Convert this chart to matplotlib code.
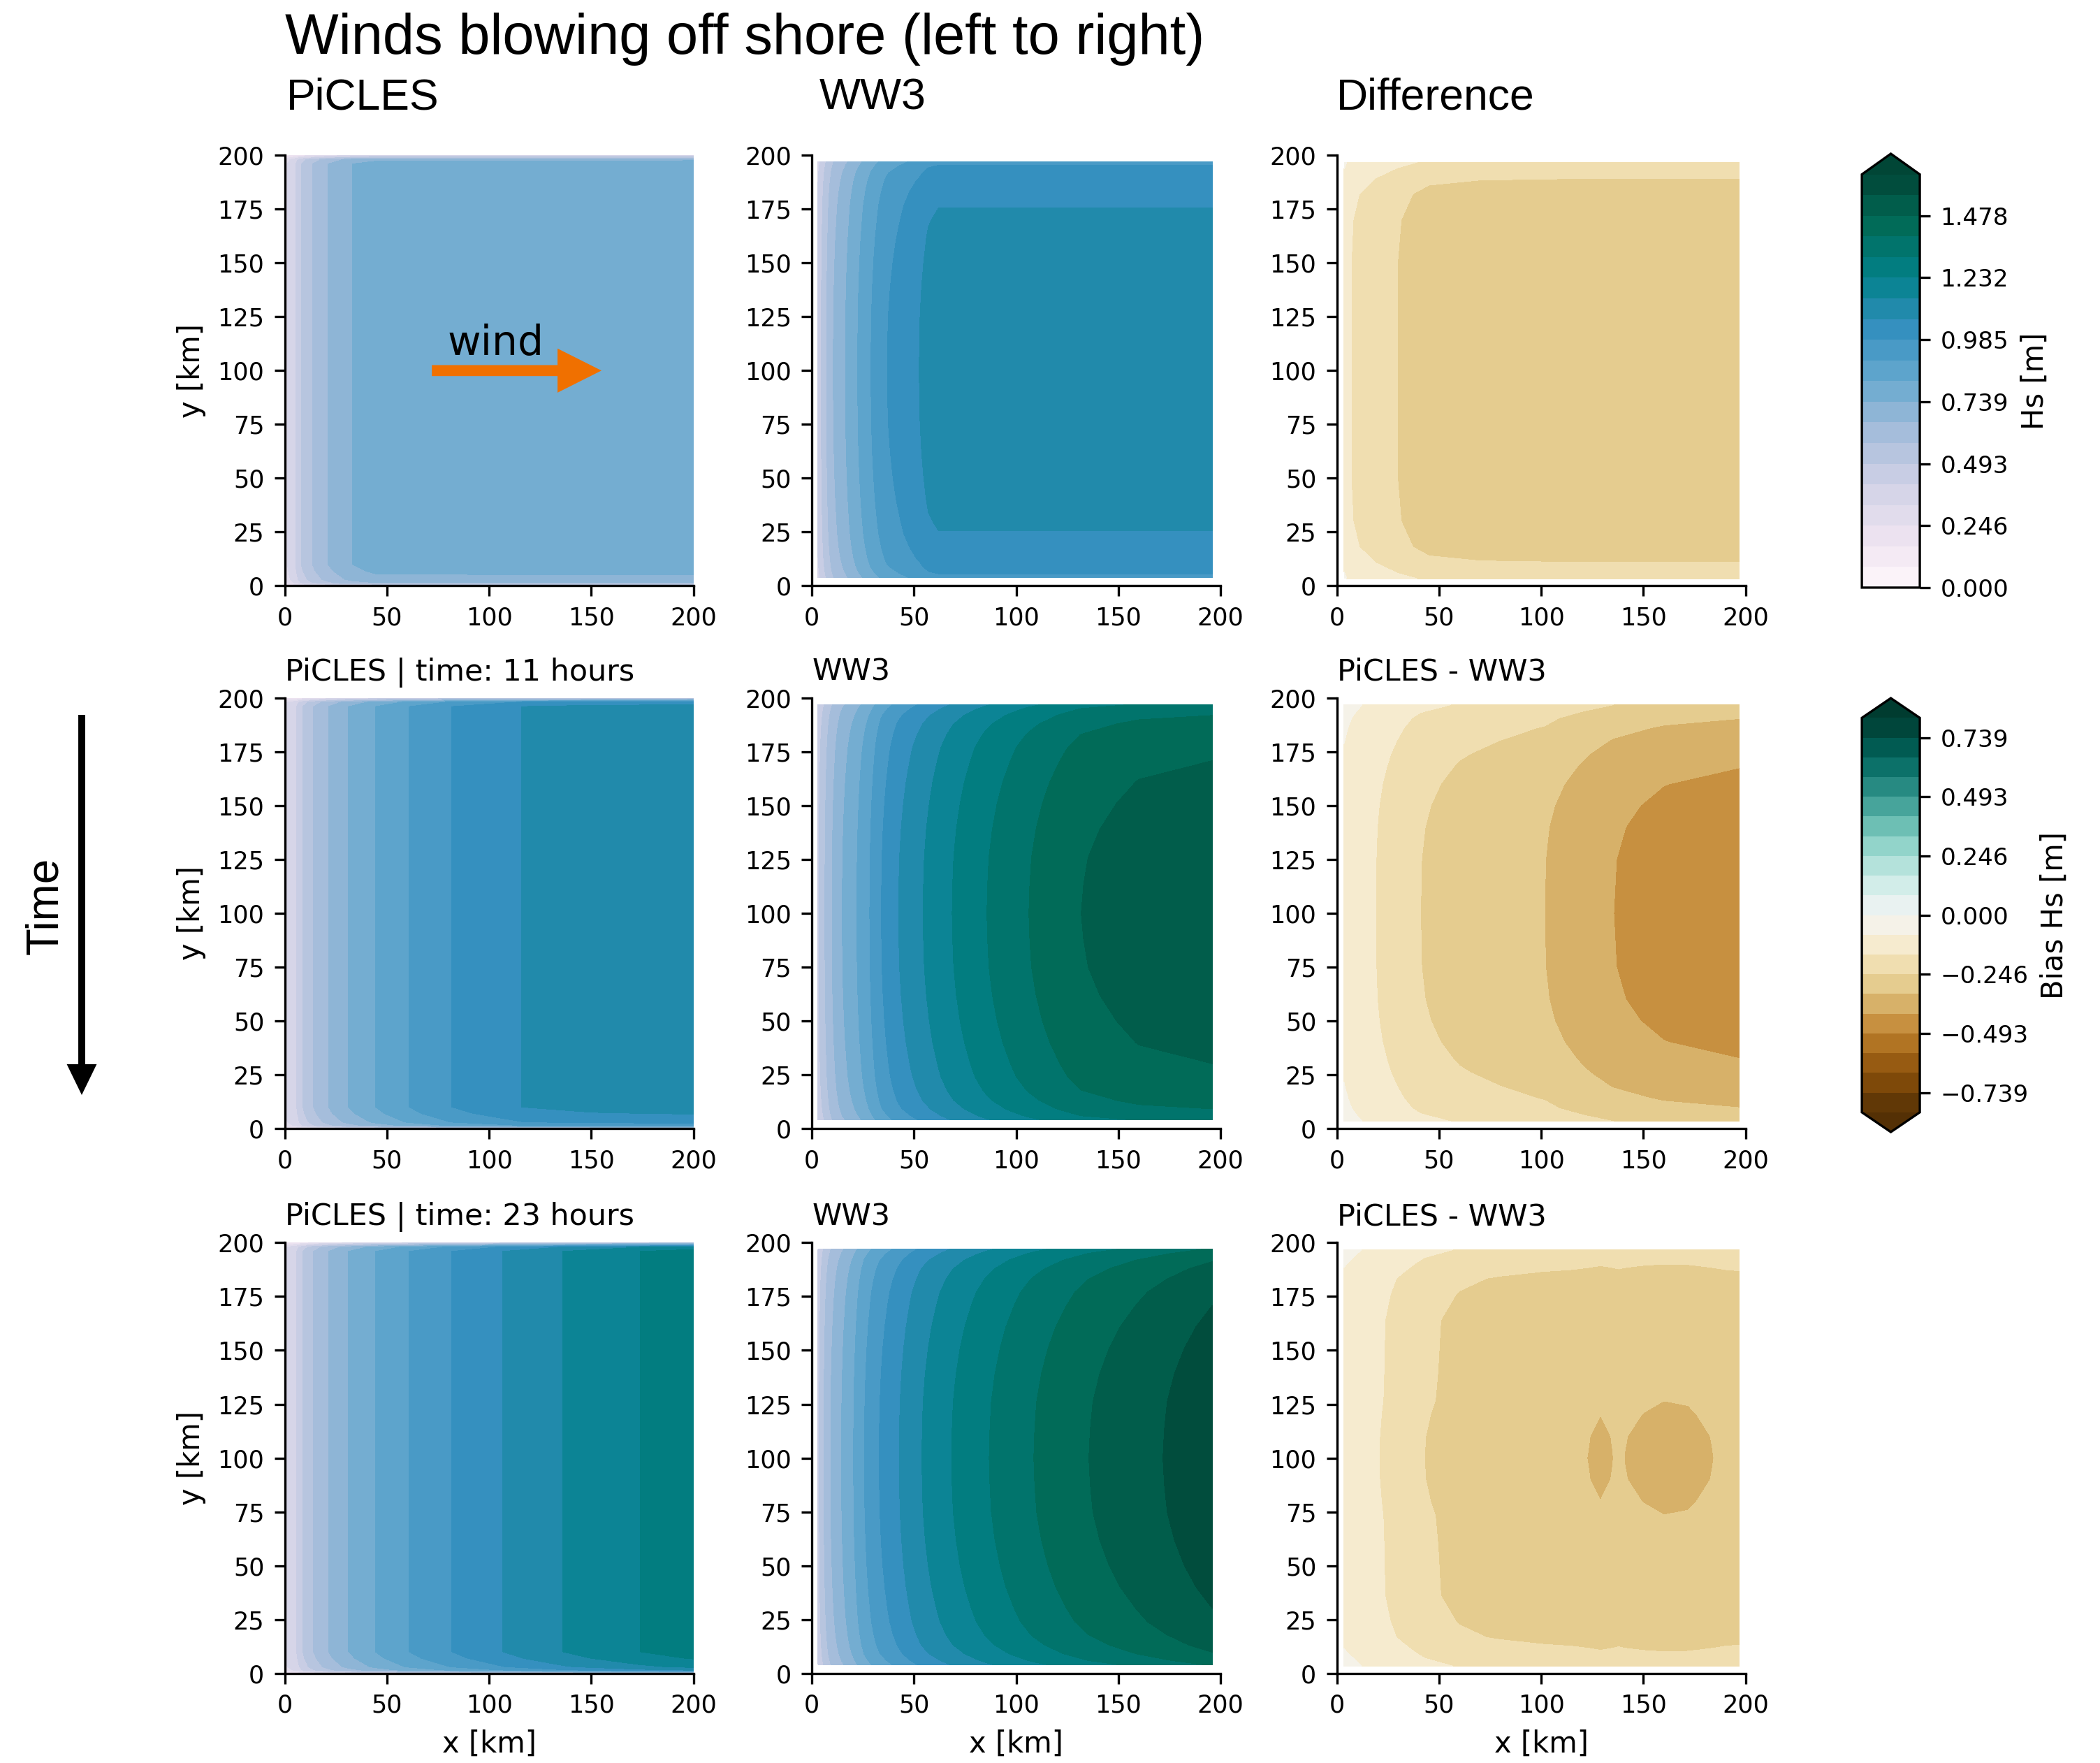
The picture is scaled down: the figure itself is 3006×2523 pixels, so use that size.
import numpy as np
import matplotlib
matplotlib.use("Agg")
import matplotlib.pyplot as plt
from matplotlib.patches import FancyArrow
from matplotlib.ticker import FuncFormatter

# ---------------------------------------------------------------------------
# Contour levels (m)
HS_STEP = 0.08212
hs_levels = np.arange(21) * HS_STEP
bias_levels = (np.arange(21) - 10) * HS_STEP

# ---------------------------------------------------------------------------
# PiCLES: along-shore shape factor and cross-shore Hs profiles (x in km, Hs in m)
picles_y = [0, 1.5, 3, 7, 10, 196, 198, 200]
picles_yfac = [0.42, 0.85, 0.92, 0.975, 1.0, 1.0, 0.93, 0.42]

picles_x_t0 = [0, 1.4, 5.3, 8.1, 13.5, 21.2, 33.0, 45, 200]
picles_hs_t0 = [0.29, 0.33, 0.41, 0.493, 0.575, 0.657, 0.739, 0.775, 0.78]

picles_x_t11 = [0, 5.8, 8.9, 14.1, 21.4, 31.2, 44.4, 60.8, 81.6, 116, 150, 200]
picles_hs_t11 = [0.34, 0.41, 0.493, 0.575, 0.657, 0.739, 0.821, 0.903, 0.985,
                 1.068, 1.09, 1.10]

picles_x_t23 = [0, 5.8, 8.9, 14.1, 21.4, 31.2, 44.4, 60.8, 81.6, 106.9, 136.1,
                174.0, 200]
picles_hs_t23 = [0.34, 0.41, 0.493, 0.575, 0.657, 0.739, 0.821, 0.903, 0.985,
                 1.068, 1.15, 1.232, 1.27]

# WW3: along-shore shape factor and centre-line Hs profiles
ww3_y = [4, 6, 9, 13, 18, 24, 30, 40, 50, 62, 75, 88, 100,
         113, 126, 139, 151, 161, 171, 177, 183, 188, 192, 195, 197]
ww3_yfac = [0.87, 0.89, 0.912, 0.93, 0.945, 0.958, 0.966, 0.977, 0.985, 0.992,
            0.997, 0.999, 1.0,
            0.999, 0.997, 0.992, 0.985, 0.977, 0.966, 0.958, 0.945, 0.93,
            0.912, 0.89, 0.87]

ww3_x_t0 = [3, 4.6, 7.2, 10.5, 16.4, 22.4, 28.9, 36.8, 52.6, 57, 62, 196]
ww3_hs_t0 = [0.44, 0.493, 0.575, 0.657, 0.739, 0.821, 0.903, 0.985, 1.068,
             1.10, 1.112, 1.112]

ww3_x_t11 = [3, 6.4, 9.9, 14.9, 22.0, 28.3, 34.0, 42.5, 54.5, 68.7, 85.7,
             106.2, 131.7, 160, 196]
ww3_hs_t11 = [0.48, 0.575, 0.657, 0.739, 0.821, 0.903, 0.985, 1.068, 1.15,
              1.232, 1.314, 1.396, 1.478, 1.515, 1.53]

ww3_x_t23 = [3, 5.9, 9.2, 14.5, 20.4, 25.7, 32.9, 42.8, 53.9, 68.4, 86.8,
             108.6, 135.5, 171.7, 196]
ww3_hs_t23 = [0.47, 0.575, 0.657, 0.739, 0.821, 0.903, 0.985, 1.068, 1.15,
              1.232, 1.314, 1.396, 1.478, 1.56, 1.615]

# Difference (PiCLES - WW3): along-shore factors and centre-line bias (m)
diff_y_t0 = [3.3, 10.6, 18, 30, 50, 150, 170.1, 182.1, 189.5, 196.8]
diff_yfac_t0 = [0.6, 0.79, 0.92, 0.98, 1.0, 1.0, 0.98, 0.92, 0.79, 0.6]
diff_x_t0 = [3.5, 7, 29.6, 45, 70, 120, 197]
diff_b_t0 = [-0.12, -0.164, -0.246, -0.29, -0.305, -0.31, -0.31]

diff_y_t11 = [3.3, 6, 9.3, 14, 20, 26, 32, 40, 50, 60, 75, 100,
              125.1, 140.1, 150.1, 160.1, 168.1, 174.1, 180.1, 186.1, 190.8,
              194.1, 196.8]
diff_yfac_t11 = [0.6, 0.65, 0.71, 0.76, 0.81, 0.855, 0.89, 0.93, 0.963, 0.983,
                 0.996, 1.0,
                 0.996, 0.983, 0.963, 0.93, 0.89, 0.855, 0.81, 0.76, 0.71,
                 0.65, 0.6]
diff_x_t11 = [3.5, 19, 40.8, 60, 80, 101.5, 120, 135, 160, 197]
diff_b_t11 = [-0.10, -0.164, -0.246, -0.282, -0.305, -0.328, -0.375, -0.41,
              -0.44, -0.46]

diff_y_t23 = [3.3, 10, 14, 16.6, 24, 36, 60, 73, 80, 90, 100,
              110.1, 120.1, 127.1, 140.1, 164.1, 176.1, 183.5, 186.1, 190.1,
              196.8]
diff_yfac_t23 = [0.6, 0.72, 0.79, 0.84, 0.89, 0.94, 0.95, 0.959, 0.977, 0.995,
                 1.0,
                 0.995, 0.977, 0.959, 0.95, 0.94, 0.89, 0.84, 0.79, 0.72, 0.6]
diff_x_t23 = [3.5, 20.7, 42.7, 60, 80, 100, 115, 123, 129, 135, 138, 141, 150,
              160, 172, 184, 190, 197]
diff_b_t23 = [-0.11, -0.164, -0.246, -0.28, -0.30, -0.315, -0.322, -0.329,
              -0.336, -0.329, -0.324, -0.329, -0.337, -0.342, -0.340, -0.329,
              -0.322, -0.318]

row_titles = [None, "PiCLES | time: 11 hours", "PiCLES | time: 23 hours"]

# ---------------------------------------------------------------------------
plt.rcParams["font.family"] = ["DejaVu Sans"]
HEAD_FONT = ["Liberation Sans", "DejaVu Sans"]

fig = plt.figure(figsize=(10.02, 8.41), dpi=300)

lefts = [0.1356, 0.3866, 0.6366]
bottoms = [0.6677, 0.3599, 0.0509]
W, H = 0.1946, 0.2442
axes = np.array([[fig.add_axes([l, b, W, H]) for l in lefts] for b in bottoms])

picles = [(picles_x_t0, picles_hs_t0), (picles_x_t11, picles_hs_t11),
          (picles_x_t23, picles_hs_t23)]
ww3 = [(ww3_x_t0, ww3_hs_t0), (ww3_x_t11, ww3_hs_t11), (ww3_x_t23, ww3_hs_t23)]
diffs = [(diff_x_t0, diff_y_t0, diff_b_t0, diff_yfac_t0),
         (diff_x_t11, diff_y_t11, diff_b_t11, diff_yfac_t11),
         (diff_x_t23, diff_y_t23, diff_b_t23, diff_yfac_t23)]


def field(prof, fac):
    """Grid of along-shore factor times cross-shore profile."""
    return np.outer(np.asarray(fac), np.asarray(prof))


hs_set = None
bias_set = None
for r in range(3):
    px, ph = picles[r]
    hs_set = axes[r, 0].contourf(px, picles_y, field(ph, picles_yfac),
                                 levels=hs_levels, cmap="PuBuGn", extend="max")
    wx, wh = ww3[r]
    axes[r, 1].contourf(wx, ww3_y, field(wh, ww3_yfac),
                        levels=hs_levels, cmap="PuBuGn", extend="max")
    dx, dy, db, df = diffs[r]
    bias_set = axes[r, 2].contourf(dx, dy, field(db, df),
                                   levels=bias_levels, cmap="BrBG", extend="both")

for ax in axes.flat:
    ax.set_xlim(0, 200)
    ax.set_ylim(0, 200)
    ax.set_xticks(range(0, 201, 50))
    ax.set_yticks(range(0, 201, 25))
    ax.spines["top"].set_visible(False)
    ax.spines["right"].set_visible(False)
    ax.tick_params(labelsize=8.4)

for r in range(3):
    axes[r, 0].set_ylabel("y [km]", fontsize=10)
    if row_titles[r]:
        axes[r, 0].set_title(row_titles[r], loc="left", fontsize=10.3)
        axes[r, 1].set_title("WW3", loc="left", fontsize=10.3)
        axes[r, 2].set_title("PiCLES - WW3", loc="left", fontsize=10.3)
for c in range(3):
    axes[2, c].set_xlabel("x [km]", fontsize=10)

# wind direction marker
ax0 = axes[0, 0]
ax0.add_patch(FancyArrow(72, 100, 83, 0, width=5.1, head_width=20.5,
                         head_length=21.5, length_includes_head=True,
                         color="#f07000", lw=0))
ax0.text(79.5, 107.3, "wind", fontsize=14, va="baseline", ha="left")

# colour bars
fmt = FuncFormatter(lambda v, p: f"{round(v, 6) + 0.0:.3f}".replace("-", "\u2212"))
cax1 = fig.add_axes([0.8866, 0.6667, 0.0276, 0.2461])
cb1 = fig.colorbar(hs_set, cax=cax1, ticks=hs_levels[::3])
cb1.ax.yaxis.set_major_formatter(fmt)
cb1.ax.tick_params(labelsize=8.2)
cb1.set_label("Hs [m]", fontsize=10)

cax2 = fig.add_axes([0.8866, 0.3579, 0.0276, 0.2461])
cb2 = fig.colorbar(bias_set, cax=cax2, ticks=bias_levels[1::3])
cb2.ax.yaxis.set_major_formatter(fmt)
cb2.ax.tick_params(labelsize=8.2)
cb2.set_label("Bias Hs [m]", fontsize=10)

# headings
fig.text(0.1357, 0.9695, "Winds blowing off shore (left to right)",
         fontsize=19.5, family=HEAD_FONT, va="baseline", ha="left")
fig.text(0.1364, 0.938, "PiCLES", fontsize=15, family=HEAD_FONT,
         va="baseline", ha="left")
fig.text(0.3902, 0.938, "WW3", fontsize=15, family=HEAD_FONT,
         va="baseline", ha="left")
fig.text(0.6364, 0.938, "Difference", fontsize=15, family=HEAD_FONT,
         va="baseline", ha="left")

# time axis arrow on the left
fig.text(0.0217, 0.4863, "Time", fontsize=15.3, family=HEAD_FONT, rotation=90,
         va="center", ha="center")
fig.patches.append(FancyArrow(0.39, (2523 - 1023) / 300, 0, -(1567 - 1023) / 300,
                              width=0.033, head_width=0.143, head_length=0.147,
                              length_includes_head=True, color="black", lw=0,
                              transform=fig.dpi_scale_trans, figure=fig))

fig.savefig("out.png", dpi=300)
